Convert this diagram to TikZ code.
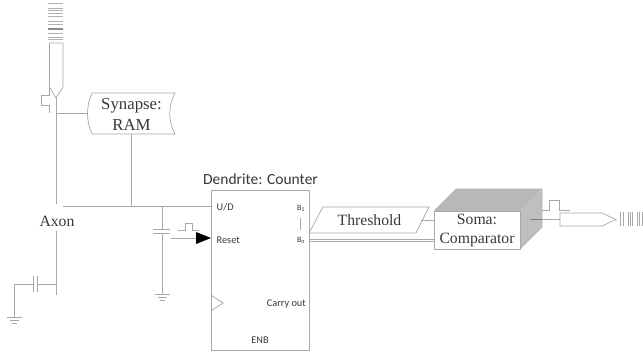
\documentclass[tikz,border=0pt]{standalone}
\usepackage{fontspec}
\setmainfont{Liberation Serif}
\newfontfamily\calib{Carlito}
\definecolor{ln}{gray}{0.66}
\definecolor{tx}{gray}{0.22}
\tikzset{
  wire/.style={draw=ln,line width=0.9pt},
  thinw/.style={draw=ln,line width=0.7pt},
  serif/.style={text=tx,inner sep=0pt,align=center,font=\fontsize{15.7}{19}\selectfont},
  sans/.style={text=tx,inner sep=0pt,font=\calib\fontsize{10.3}{12}\selectfont},
}
\begin{document}
\begin{tikzpicture}[x=1pt,y=-1pt]
\useasboundingbox (0,0) rectangle (643,353);
% coordinates
\coordinate (axT) at (56,98);
\coordinate (ax1) at (56,204);
\coordinate (ax2) at (56,231);
\coordinate (ax3) at (56,295);
\coordinate (bus0) at (63,206);
\coordinate (busR) at (131,206);
\coordinate (busC) at (162,206);
% incoming spike stripes
\foreach \y/\g in {3/0.7,8/0.7,10/0.7,13/0.7,16/0.7,21/0.7,24/0.7,28/0.55,29.5/0.55,33/0.7,37/0.7,39/0.7}
  \draw[draw=black!\fpeval{(1-\g)*100},line width=0.9pt] (48,\y) -- (63,\y);
% spike
\draw[thinw] (49.5,43) -- (63,43) -- (63,87) -- (56,98) -- (49.5,87) -- cycle;
% synaptic bump
\draw[thinw] (49,88) -- (49,95) -- (41,95) -- (41,105) -- (49,105) -- (49,113);
% axon
\draw[wire] (axT) -- (ax1);
\node[serif] (axon) at (57,221) {Axon};
\draw[wire] (ax2) -- (ax3);
% synapse
\draw[thinw] (92,93) -- (175,93) .. controls (168,106) and (168,121) .. (175,134) -- (92,134) .. controls (86,121) and (86,106) .. (92,93);
\node[serif,font=\fontsize{16.8}{21}\selectfont] (ramt) at (131.5,114) {Synapse:\\RAM};
\coordinate (ramL) at (88,113);
\coordinate (ramB) at (131,134);
\draw[thinw] (56,113) -- (ramL);
\draw[wire] (ramB) -- (busR);
% bus
\node[draw=ln,line width=1pt,inner sep=0pt,minimum width=98pt,minimum height=160pt] (cnt) at (260,270) {};
\coordinate (cntU) at (211,206);
\draw[wire] (bus0) -- (cntU);
% capacitor to ground
\coordinate (c1) at (162,229);
\coordinate (c2) at (162,233);
\coordinate (g1) at (162,294);
\draw[wire] (busC) -- (c1);
\draw[wire] (c2) -- (g1);
\draw[wire] (153,229) -- (170,229);
\draw[wire] (153,233) -- (170,233);
\draw[wire] (155,294) -- (170,294);
\draw[thinw] (158,297) -- (167,297);
\draw[thinw] (160,300) -- (165,300);
% reset
\draw[thinw] (178,230) -- (185,230) -- (185,223) -- (192,223) -- (192,230) -- (199,230);
\coordinate (rs) at (171,238);
\coordinate (rtip) at (211,238);
\draw[wire] (rs) -- (196,238);
\fill[black] (196,232) -- (rtip) -- (196,244) -- cycle;
% leak capacitor
\draw[thinw] (ax3 |- 0,284) -- (37,284);
\draw[wire] (37,276) -- (37,292);
\draw[wire] (33,276) -- (33,292);
\draw[thinw] (33,284) -- (14,284) -- (14,317);
\draw[wire] (7,317) -- (22,317);
\draw[thinw] (10,320) -- (19,320);
\draw[thinw] (12,323) -- (17,323);
% counter details
\draw[thinw] (211,295) -- (223,303) -- (211,311);
\node[sans,font=\calib\fontsize{15.5}{18}\selectfont,anchor=base] (dt) at (260.5,184) {Dendrite: Counter};
\node[sans,anchor=west] (ud) at (216.5,207) {U/D};
\node[sans,anchor=west] (rst) at (216.5,240) {Reset};
\node[sans,anchor=east] (co) at (306,304) {Carry out};
\node[sans] (enb) at (260,340) {ENB};
\node[sans,font=\calib\fontsize{8}{9}\selectfont] (b1) at (301,208) {B\textsubscript{1}};
\node[sans,font=\calib\fontsize{8}{9}\selectfont] (bn) at (301,240) {B\textsubscript{n}};
\draw[thinw] (300.5,218) -- (300.5,230);
% threshold
\node[serif] (th) at (369.5,220) {Threshold};
\draw[thinw] (323,207) -- (429,207) -- (416,233) -- (309,233) -- cycle;
% soma
\fill[black!28] (434,211) -- (456,189) -- (542,189) -- (520,211) -- cycle;
\fill[black!25] (520,211) -- (542,189) -- (542,227) -- (520,249) -- cycle;
\draw[draw=black!30,line width=0.7pt] (434,211) -- (456,189) -- (542,189) -- (542,227) -- (520,249);
\node[draw=ln,fill=white,line width=1pt,inner sep=0pt,minimum width=86pt,minimum height=38pt] (soma) at (477,230) {};
\node[serif] (somat) at (477,230) {Soma:\\Comparator};
% threshold/B_n to soma
\draw[thinw] (421,220) -- (434,220);
\draw[thinw] (309,239) -- (434,239);
\draw[thinw] (309,241.5) -- (434,241.5);
% output
\draw[draw=black!50,line width=0.8pt] (530,219) -- (542,219);
\draw[thinw] (542,219) -- (560,219);
\draw[thinw] (542,210) -- (549,210) -- (549,200) -- (559,200) -- (559,210) -- (570,210);
\draw[thinw] (560,213) -- (602,213) -- (616,219.5) -- (602,226) -- (560,226) -- cycle;
\foreach \x in {620,623,628,630,632,637,639,642}
  \draw[draw=ln,line width=0.8pt] (\x,212) -- (\x,226);
\end{tikzpicture}
\end{document}
